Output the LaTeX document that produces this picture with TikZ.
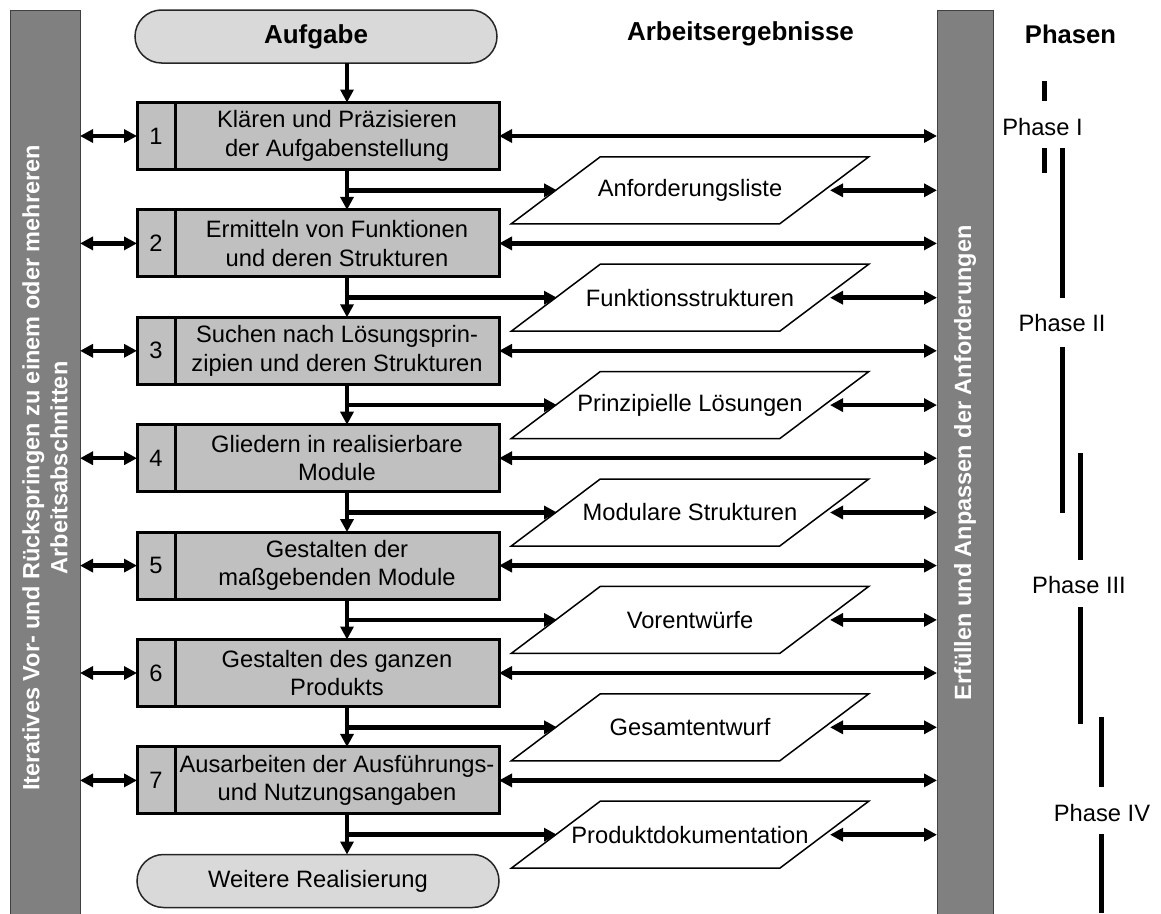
\documentclass[tikz,border=0pt]{standalone}
\usepackage{fontspec}
\setmainfont{Liberation Sans}
\usetikzlibrary{arrows.meta,shapes.misc}
\definecolor{bargray}{HTML}{808080}
\definecolor{stepgray}{HTML}{C0C0C0}
\definecolor{termgray}{HTML}{D9D9D9}
\definecolor{barline}{HTML}{404040}
\begin{document}
\begin{tikzpicture}[x=1pt,y=-1pt,
  every node/.style={inner sep=0pt,outer sep=0pt},
  txt/.style={font=\fontsize{23.7}{28.5}\selectfont,align=center},
  sidebar/.style={draw=barline,line width=1pt,fill=bargray,anchor=north west,minimum height=910pt},
  sidetext/.style={font=\bfseries\fontsize{23.5}{28}\selectfont,text=white,align=center,rotate=90},
  heading/.style={font=\bfseries\fontsize{26}{30}\selectfont},
  stepcell/.style={txt,draw=black,line width=3pt,fill=stepgray,minimum height=67pt},
  terminal/.style={txt,rounded rectangle,draw=black!85,line width=1.5pt,fill=termgray,minimum width=362pt,minimum height=53pt},
  doc/.style={draw=black,line width=1.5pt,fill=white},
  flow/.style={line width=4.5pt,-{Triangle[length=13pt,width=13pt]}},
  both/.style={line width=4.5pt,{Triangle[length=13pt,width=13pt]}-{Triangle[length=13pt,width=13pt]}},
  phasebar/.style={line width=5pt},
  phasetext/.style={txt}]
\useasboundingbox (0,0) rectangle (1161,913);

% side bars
\node[sidebar,minimum width=70pt] (lb) at (10,10) {};
\node[sidebar,minimum width=56pt] (rb) at (937,10) {};
\node[sidetext] (lbt) at (45,468) {Iteratives Vor- und Rückspringen zu einem oder mehreren\\Arbeitsabschnitten};
\node[sidetext] (rbt) at (965,463) {Erfüllen und Anpassen der Anforderungen};

% headings
\node[heading] (hres) at (740.5,34) {Arbeitsergebnisse};
\node[heading,font=\bfseries\fontsize{25.6}{30}\selectfont] (hphase) at (1070.5,34) {Phasen};

% start and end
\node[terminal,font=\bfseries\fontsize{26}{30}\selectfont] (start) at (316,36.5) {Aufgabe};
\node[terminal] (end) at (318,881) {Weitere Realisierung};

% trunk column
\coordinate (tx) at (347,0);

% working steps
\foreach \k/\y/\t in {
  1/136/{Klären und Präzisieren\\der Aufgabenstellung},
  2/243.4/{Ermitteln von Funktionen\\und deren Strukturen},
  3/350.8/{Suchen nach Lösungsprin-\\zipien und deren Strukturen},
  4/458.2/{Gliedern in realisierbare\\Module},
  5/565.6/{Gestalten der\\maßgebenden Module},
  6/673/{Gestalten des ganzen\\Produkts},
  7/780.4/{Ausarbeiten der Ausführungs-\\und Nutzungsangaben}} {
  \node[stepcell,minimum width=38pt] (n\k) at (156,\y) {\k};
  \node[stepcell,minimum width=324pt] (s\k) at (337,\y) {\t};
}

% work results
\foreach \k/\y/\lab in {
  1/136/Anforderungsliste,
  2/243.4/Funktionsstrukturen,
  3/350.8/Prinzipielle Lösungen,
  4/458.2/Modulare Strukturen,
  5/565.6/Vorentwürfe,
  6/673/Gesamtentwurf,
  7/780.4/Produktdokumentation} {
  \pgfmathsetmacro{\p}{\y+54.3}
  \draw[doc] (690,\p) ++(-89.75,-33.5) -- ++(268.5,0) -- ++(-89,67) -- ++(-268.5,0) -- cycle;
  \node[txt] (r\k) at (690,\p) {\lab};
  \coordinate (pl\k) at (557,\p);
  \coordinate (pr\k) at (830,\p);
}

% main flow
\draw[flow] (start.south -| tx) -- (s1.north -| tx);
\foreach \k/\j in {1/2,2/3,3/4,4/5,5/6,6/7}
  \draw[flow] (s\k.south -| tx) -- (s\j.north -| tx);
\draw[flow] (s7.south -| tx) -- (end.north -| tx);

% branches, requirement links and iteration links
\foreach \k in {1,...,7} {
  \draw[flow] (tx |- pl\k) -- (pl\k);
  \draw[both] (pr\k) -- (pr\k -| rb.west);
  \draw[both] (s\k.east) -- (s\k.east -| rb.west);
  \draw[both] (lb.east |- n\k.west) -- (n\k.west);
}

% phases
\node[phasetext] (ph1) at (1042.5,127) {Phase I};
\node[phasetext] (ph2) at (1062,323) {Phase II};
\node[phasetext] (ph3) at (1079,585) {Phase III};
\node[phasetext] (ph4) at (1102,813) {Phase IV};
\draw[phasebar] (1044,81) -- (1044,101);
\draw[phasebar] (1044,148) -- (1044,173);
\draw[phasebar] (1062,148) -- (1062,298);
\draw[phasebar] (1062,347) -- (1062,513);
\draw[phasebar] (1080,453) -- (1080,560);
\draw[phasebar] (1080,607) -- (1080,724);
\draw[phasebar] (1101,717) -- (1101,787);
\draw[phasebar] (1101,834) -- (1101,913);
\end{tikzpicture}
\end{document}
